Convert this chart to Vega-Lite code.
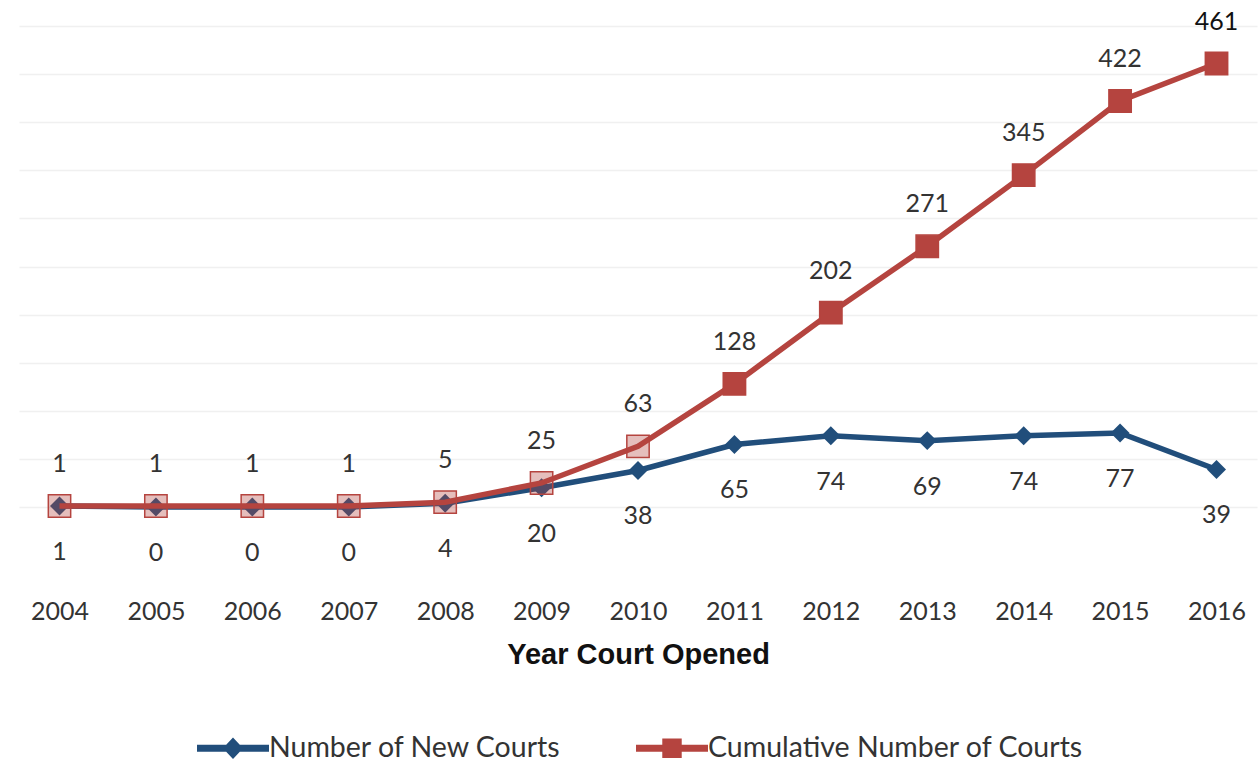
{
  "$schema": "https://vega.github.io/schema/vega-lite/v6.json",
  "width": 1238,
  "height": 481,
  "autosize": {"type": "none"},
  "padding": {"left": 19, "top": 26, "right": 1, "bottom": 257},
  "background": "white",
  "config": {"view": {"stroke": null}, "font": "Lato"},
  "data": {
    "values": [
      {"Year": 2004, "Series": "Number of New Courts", "Value": 1},
      {"Year": 2005, "Series": "Number of New Courts", "Value": 0},
      {"Year": 2006, "Series": "Number of New Courts", "Value": 0},
      {"Year": 2007, "Series": "Number of New Courts", "Value": 0},
      {"Year": 2008, "Series": "Number of New Courts", "Value": 4},
      {"Year": 2009, "Series": "Number of New Courts", "Value": 20},
      {"Year": 2010, "Series": "Number of New Courts", "Value": 38},
      {"Year": 2011, "Series": "Number of New Courts", "Value": 65},
      {"Year": 2012, "Series": "Number of New Courts", "Value": 74},
      {"Year": 2013, "Series": "Number of New Courts", "Value": 69},
      {"Year": 2014, "Series": "Number of New Courts", "Value": 74},
      {"Year": 2015, "Series": "Number of New Courts", "Value": 77},
      {"Year": 2016, "Series": "Number of New Courts", "Value": 39},
      {"Year": 2004, "Series": "Cumulative Number of Courts", "Value": 1},
      {"Year": 2005, "Series": "Cumulative Number of Courts", "Value": 1},
      {"Year": 2006, "Series": "Cumulative Number of Courts", "Value": 1},
      {"Year": 2007, "Series": "Cumulative Number of Courts", "Value": 1},
      {"Year": 2008, "Series": "Cumulative Number of Courts", "Value": 5},
      {"Year": 2009, "Series": "Cumulative Number of Courts", "Value": 25},
      {"Year": 2010, "Series": "Cumulative Number of Courts", "Value": 63},
      {"Year": 2011, "Series": "Cumulative Number of Courts", "Value": 128},
      {"Year": 2012, "Series": "Cumulative Number of Courts", "Value": 202},
      {"Year": 2013, "Series": "Cumulative Number of Courts", "Value": 271},
      {"Year": 2014, "Series": "Cumulative Number of Courts", "Value": 345},
      {"Year": 2015, "Series": "Cumulative Number of Courts", "Value": 422},
      {"Year": 2016, "Series": "Cumulative Number of Courts", "Value": 461}
    ]
  },
  "encoding": {
    "x": {
      "field": "Year",
      "type": "ordinal",
      "scale": {"type": "point", "padding": 0.42},
      "axis": {
        "title": "Year Court Opened",
        "titleFont": "Liberation Sans",
        "titleFontSize": 29,
        "titleFontWeight": "bold",
        "titleColor": "#111111",
        "titlePadding": 16,
        "labelAngle": 0,
        "labelFont": "Lato",
        "labelFontSize": 25,
        "labelColor": "#333333",
        "labelPadding": 92,
        "ticks": false,
        "tickSize": 0,
        "domain": false,
        "grid": false
      }
    },
    "y": {
      "field": "Value",
      "type": "quantitative",
      "scale": {"domain": [0, 500]},
      "axis": {
        "title": null,
        "labels": false,
        "ticks": false,
        "domain": false,
        "grid": true,
        "gridColor": "#f0f0f0",
        "gridWidth": 1.5,
        "values": [0, 50, 100, 150, 200, 250, 300, 350, 400, 450, 500]
      }
    },
    "color": {
      "field": "Series",
      "type": "nominal",
      "scale": {
        "domain": ["Number of New Courts", "Cumulative Number of Courts"],
        "range": ["#214e7b", "#b5443f"]
      },
      "legend": {
        "orient": "none",
        "legendX": 178,
        "legendY": 686,
        "direction": "horizontal",
        "title": null,
        "labelFont": "Lato",
        "labelFontSize": 28.5,
        "labelColor": "#333333",
        "labelLimit": 600,
        "columnPadding": 74,
        "symbolSize": 5184,
        "labelOffset": 0,
        "encode": {
          "symbols": {
            "update": {
              "shape": {"signal": "datum.value === 'Number of New Courts' ? 'M-1,-0.1L1,-0.1L1,0.1L-1,0.1Z M0,-0.3L0.28,0L0,0.3L-0.28,0Z' : 'M-1,-0.1L1,-0.1L1,0.1L-1,0.1Z M-0.27,-0.27L0.27,-0.27L0.27,0.27L-0.27,0.27Z'"},
              "fill": {"signal": "datum.value === 'Number of New Courts' ? '#214e7b' : '#b5443f'"},
              "strokeWidth": {"value": 0},
              "opacity": {"value": 1},
              "fillOpacity": {"value": 1},
              "size": {"value": 5184}
            }
          }
        }
      }
    }
  },
  "layer": [
    {
      "transform": [{"filter": "datum.Series === 'Number of New Courts'"}],
      "mark": {"type": "line", "strokeWidth": 5.5}
    },
    {
      "transform": [{"filter": "datum.Series === 'Number of New Courts'"}],
      "mark": {"type": "point", "shape": "diamond", "filled": true, "size": 360, "opacity": 1}
    },
    {
      "transform": [{"filter": "datum.Series === 'Cumulative Number of Courts'"}],
      "mark": {"type": "line", "strokeWidth": 5.5}
    },
    {
      "transform": [{"filter": "datum.Series === 'Cumulative Number of Courts'"}],
      "mark": {"type": "point", "shape": "square", "filled": true, "size": 500, "opacity": 1, "strokeWidth": 1.5},
      "encoding": {
        "fillOpacity": {"condition": {"test": "datum.Year <= 2010", "value": 0.35}, "value": 1},
        "stroke": {"value": "#b5443f"}
      }
    },
    {
      "transform": [{"filter": "datum.Series === 'Cumulative Number of Courts'"}],
      "mark": {"type": "text", "dy": -42, "fontSize": 25, "font": "Lato", "baseline": "middle", "color": "#333333"},
      "encoding": {
        "text": {"field": "Value", "type": "quantitative"},
        "color": {"condition": {"test": "datum.Year === 2016", "value": "#111111"}, "value": "#333333"},
        "fontWeight": {"condition": {"test": "datum.Year === 2016", "value": "bold"}, "value": "normal"}
      }
    },
    {
      "transform": [{"filter": "datum.Series === 'Number of New Courts'"}],
      "mark": {"type": "text", "dy": 46, "fontSize": 25, "font": "Lato", "baseline": "middle", "color": "#333333"},
      "encoding": {
        "text": {"field": "Value", "type": "quantitative"},
        "color": {"value": "#333333"}
      }
    }
  ]
}
